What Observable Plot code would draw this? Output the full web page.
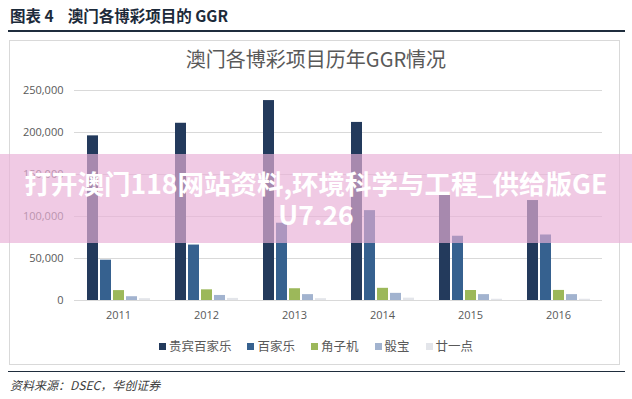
<!DOCTYPE html>
<html>
<head>
<meta charset="utf-8">
<script src="https://cdn.jsdelivr.net/npm/d3@7"></script>
<script src="https://cdn.jsdelivr.net/npm/@observablehq/plot@0.6"></script>
<style>
  html, body { margin: 0; padding: 0; background: #fff; width: 632px; height: 399px; overflow: hidden; position: relative; font-family: "Noto Sans CJK SC", "Noto Sans", sans-serif; }
  .abs { position: absolute; }
  #header { left: 10px; top: 4px; font-size: 15.5px; font-weight: bold; color: #1c2a3a; white-space: pre; }
  #rule1 { left: 8px; top: 30px; width: 617px; height: 2px; background: #1f2d3d; }
  #box { left: 9px; top: 40px; width: 611px; height: 325px; border: 1px solid #d9d9d9; box-sizing: border-box; }
  #ctitle { left: 0; width: 632px; top: 44px; text-align: center; font-size: 20px; color: #595959; }
  #chart { left: 0; top: 75px; }
  #legend { left: 0; width: 632px; top: 336px; text-align: center; font-size: 12.5px; color: #595959; }
  #legend span.item { display: inline-block; margin: 0 8px; }
  #legend span.sw { display: inline-block; width: 7px; height: 7px; margin-right: 3px; vertical-align: 1px; }
  #rule2 { left: 8px; top: 371px; width: 617px; height: 1px; background: #1f2d3d; }
  #footer { left: 10px; top: 376px; font-size: 12px; font-style: italic; color: #404040; }
  #band { left: 0; top: 154px; width: 632px; height: 89px; background: rgba(233,176,215,0.67); }
  #wm { left: 0; top: 167px; width: 632px; text-align: center; font-size: 26.5px; line-height: 31px; font-weight: bold; color: #fff; }
</style>
</head>
<body>
<div id="header" class="abs">图表 4    澳门各博彩项目的 GGR</div>
<div id="rule1" class="abs"></div>
<div id="box" class="abs"></div>
<div id="ctitle" class="abs">澳门各博彩项目历年GGR情况</div>
<div id="chart" class="abs"></div>
<div id="legend" class="abs"></div>
<div id="rule2" class="abs"></div>
<div id="footer" class="abs">资料来源：DSEC，华创证券</div>
<div id="band" class="abs"></div>
<div id="wm" class="abs">打开澳门118网站资料,环境科学与工程_供给版GE<br>U7.26</div>
<script>
const years = ["2011", "2012", "2013", "2014", "2015", "2016"];
const series = ["贵宾百家乐", "百家乐", "角子机", "骰宝", "廿一点"];
const colors = ["#233a5c", "#36618f", "#9cb85a", "#a2b3cf", "#e3e5ea"];
const vipBaccarat = [196000, 211000, 238000, 212000, 128000, 119000];
const massBaccarat = [48000, 66000, 92000, 107000, 76500, 78000];
const slots = [11800, 12700, 14000, 14500, 11900, 12000];
const sicbo = [4500, 6000, 7000, 8500, 7000, 7000];
const blackjack = [2200, 2500, 2200, 2800, 1500, 1500];
const yTicks = [0, 50000, 100000, 150000, 200000, 250000];

const seriesValues = [vipBaccarat, massBaccarat, slots, sicbo, blackjack];
const data = [];
years.forEach((y, i) => {
  series.forEach((s, j) => data.push({year: y, series: s, value: seriesValues[j][i]}));
});

const chart = Plot.plot({
  width: 632,
  height: 255,
  marginTop: 15,
  marginBottom: 30,
  marginLeft: 74,
  marginRight: 30,
  style: {fontSize: "11px", color: "#595959", fontFamily: "'Open Sans', 'Noto Sans', sans-serif", background: "transparent"},
  fx: {domain: years, padding: 0, label: null, tickSize: 0, tickPadding: 11, axis: "bottom"},
  x: {domain: series, axis: null, paddingInner: 0.185, paddingOuter: 0.85},
  y: {domain: [0, 250000], ticks: yTicks, tickFormat: d3.format(","), tickSize: 0, tickPadding: 11, label: null},
  color: {domain: series, range: colors},
  marks: [
    Plot.ruleY(yTicks, {stroke: "#d9d9d9", strokeWidth: 1}),
    Plot.barY(data, {fx: "year", x: "series", y: "value", fill: "series"})
  ]
});
document.getElementById("chart").appendChild(chart);

const legend = document.getElementById("legend");
series.forEach((s, j) => {
  const item = document.createElement("span");
  item.className = "item";
  const sw = document.createElement("span");
  sw.className = "sw";
  sw.style.background = colors[j];
  item.appendChild(sw);
  item.appendChild(document.createTextNode(s));
  legend.appendChild(item);
});
</script>
</body>
</html>
